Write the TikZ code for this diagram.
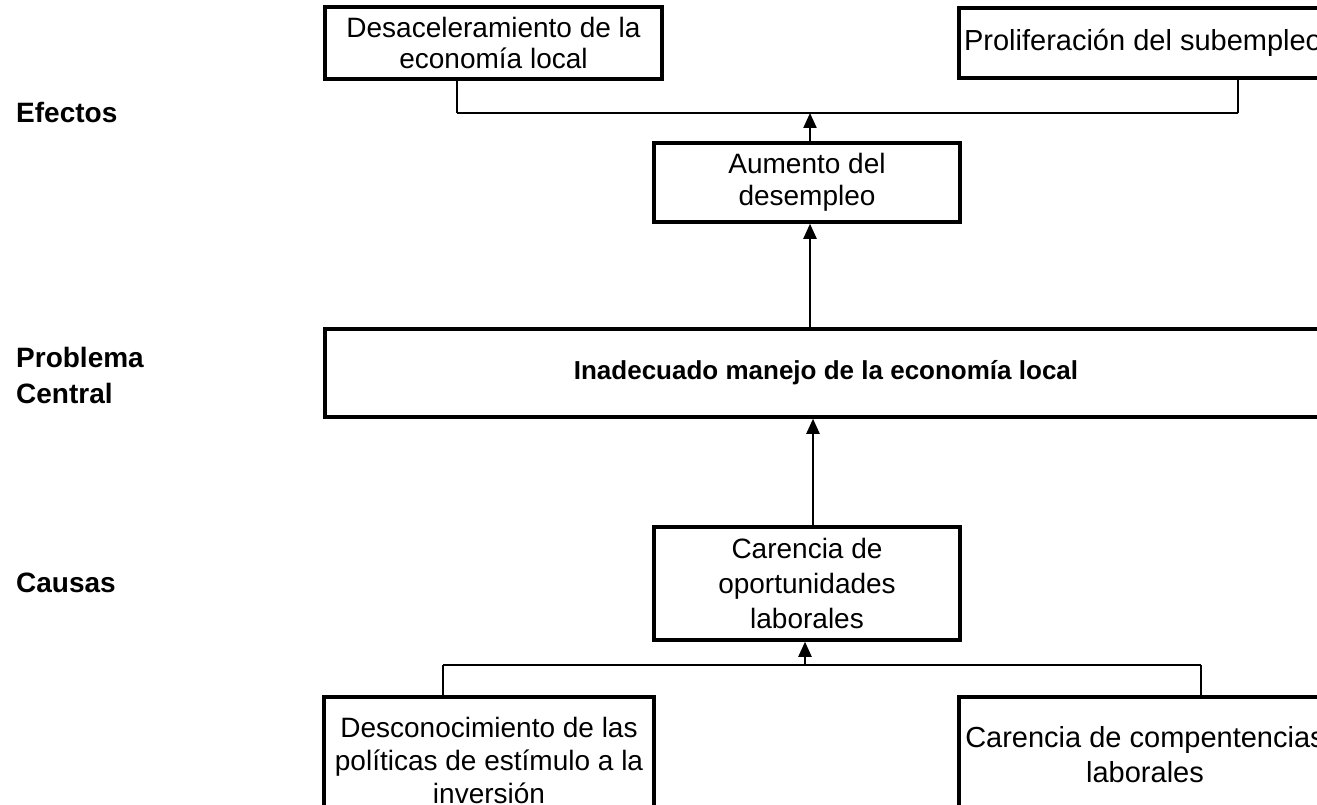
\documentclass[tikz,border=0pt]{standalone}
\usepackage{fontspec}
\setmainfont{Liberation Sans}
\usetikzlibrary{arrows.meta}
\begin{document}
\begin{tikzpicture}[x=1pt,y=-1pt,
  box/.style={draw=black, line width=3.5pt, fill=white, align=center, inner sep=0pt,
    font=\fontsize{28}{33}\selectfont},
  lbl/.style={anchor=west, align=left, inner sep=0pt, font=\fontsize{28}{36}\selectfont\bfseries},
  link/.style={line width=2.2pt},
  arr/.style={line width=2.2pt, -{Triangle[width=13pt,length=15pt]}}]
\useasboundingbox (0,0) rectangle (1317,805);
\clip (0,0) rectangle (1317,805);
\fill[white] (0,0) rectangle (1317,805);

% side labels
\node[lbl] (efe) at (16,112) {Efectos};
\node[lbl] (pro) at (16,375) {Problema\\Central};
\node[lbl] (cau) at (16,583) {Causas};

% joints
\coordinate (j1) at (457,113);
\coordinate (j2) at (1238,113);
\coordinate (k1) at (443,665);
\coordinate (k2) at (1201,665);

% connectors (drawn under boxes)
\draw[link] (j1) -- (j2);
\draw[link] (k1) -- (k2);

% boxes
\node[box, minimum width=337pt, minimum height=72pt, font=\fontsize{28}{31}\selectfont] (b1) at (493.5,43) {Desaceleramiento de la\\economía local};
\node[box, minimum width=368pt, minimum height=70pt, font=\fontsize{29}{33}\selectfont] (b2) at (1143,43) {Proliferación del subempleo};
\node[box, minimum width=306pt, minimum height=79pt, font=\fontsize{28}{32}\selectfont] (aum) at (807,182.5) {Aumento del\\desempleo};
\node[box, minimum width=1002pt, minimum height=88pt, font=\fontsize{26}{30}\selectfont\bfseries] (cen) at (826,373) {Inadecuado manejo de la economía local};
\node[box, minimum width=306pt, minimum height=113pt, font=\fontsize{28}{35}\selectfont] (car) at (807,583.5) {Carencia de\\oportunidades\\laborales};
\node[box, minimum width=330pt, minimum height=126pt] (b3) at (489,760) {Desconocimiento de las\\políticas de estímulo a la\\inversión};
\node[box, minimum width=372pt, minimum height=116pt, font=\fontsize{29}{35}\selectfont] (b4) at (1145,755) {Carencia de compentencias\\laborales};

% upper joins
\draw[link] (b1.south -| j1) -- (j1);
\draw[link] (b2.south -| j2) -- (j2);
\draw[arr] ([xshift=3pt]aum.north) -- ([xshift=3pt]aum.north |- j1);
\draw[arr] ([xshift=3pt]cen.north -| aum.south) -- ([xshift=3pt]aum.south);

% lower joins
\draw[arr] ([xshift=6pt]car.north) -- ([xshift=6pt]car.north |- cen.south);
\draw[arr] ([xshift=-2pt]car.south |- k1) -- ([xshift=-2pt]car.south);
\draw[link] (k1) -- (b3.north -| k1);
\draw[link] (k2) -- (b4.north -| k2);
\end{tikzpicture}
\end{document}
